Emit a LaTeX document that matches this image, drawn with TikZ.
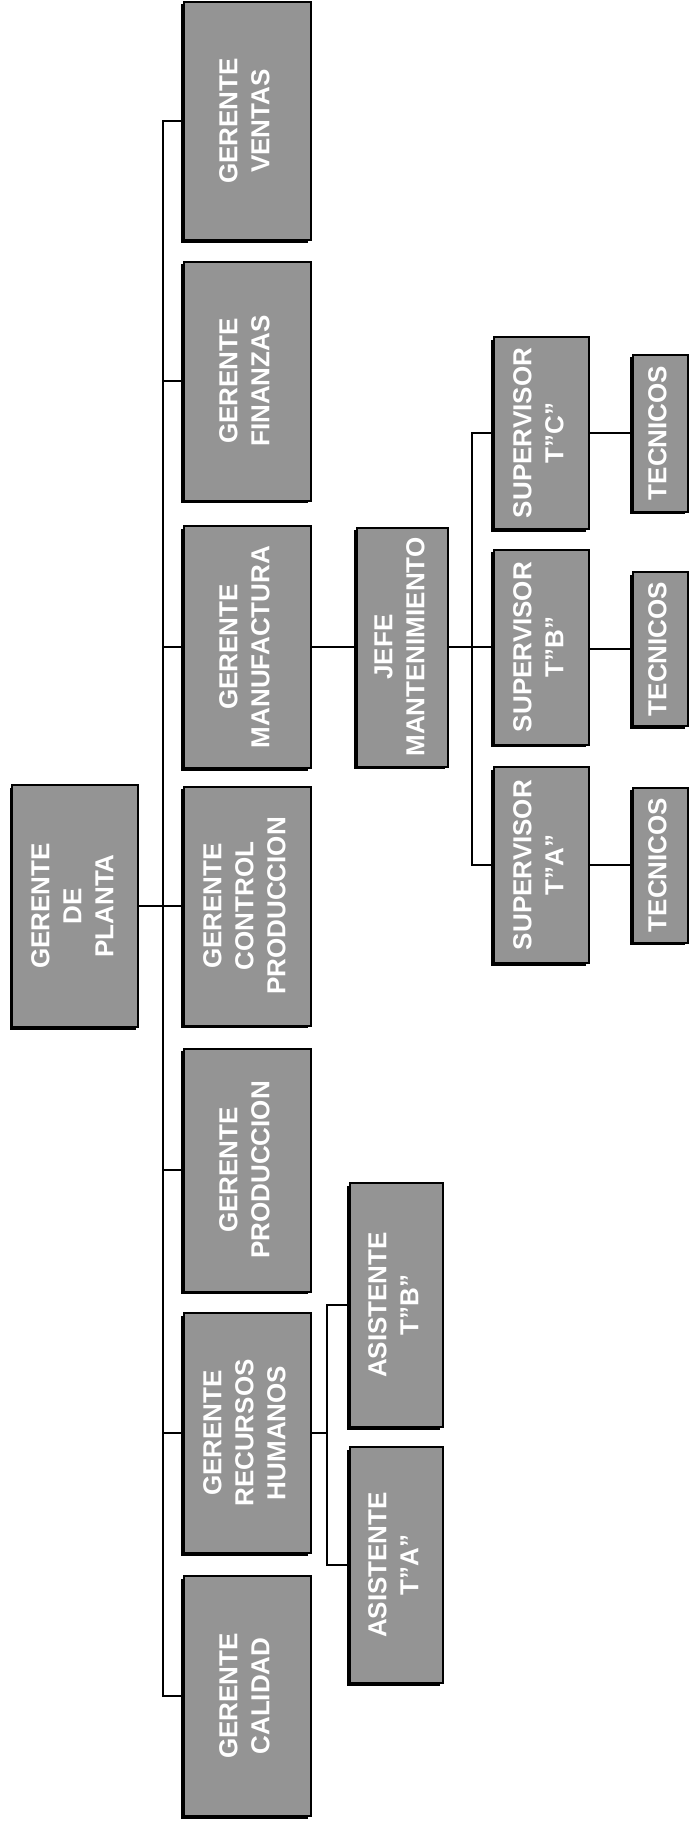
\documentclass[tikz,border=0pt]{standalone}
\usepackage{fontspec}
\setmainfont{Liberation Sans}
\usetikzlibrary{shadows}
\newcommand{\rt}[1]{\rotatebox{90}{\begin{tabular}{@{}c@{}}#1\end{tabular}}}
\tikzset{
  box/.style={draw=black, line width=2pt, fill=black!42, text=white, inner sep=0pt,
    font=\fontsize{26}{32}\selectfont\bfseries,
    general shadow={fill=black, shadow xshift=-2.5pt, shadow yshift=-2.5pt}},
  link/.style={draw=black, line width=1.6pt}
}
\begin{document}
\begin{tikzpicture}[x=1pt,y=-1pt]
\useasboundingbox (0,0) rectangle (689,1828);
% root
\node[box, minimum width=126pt, minimum height=242pt] (planta) at (75,906) {\rt{GERENTE\\DE\\PLANTA}};
% level 1
\node[box, minimum width=127pt, minimum height=238pt] (ventas) at (247,121) {\rt{GERENTE\\VENTAS}};
\node[box, minimum width=127pt, minimum height=239pt] (finanzas) at (247,381) {\rt{GERENTE\\FINANZAS}};
\node[box, minimum width=127pt, minimum height=242pt] (manuf) at (247,647) {\rt{GERENTE\\MANUFACTURA}};
\node[box, minimum width=127pt, minimum height=239pt] (control) at (247,906) {\rt{GERENTE\\CONTROL\\PRODUCCION}};
\node[box, minimum width=127pt, minimum height=243pt] (prod) at (247,1170) {\rt{GERENTE\\PRODUCCION}};
\node[box, minimum width=127pt, minimum height=240pt] (rrhh) at (247,1433) {\rt{GERENTE\\RECURSOS\\HUMANOS}};
\node[box, minimum width=127pt, minimum height=240pt] (calidad) at (247,1696) {\rt{GERENTE\\CALIDAD}};
% level 2
\node[box, minimum width=91pt, minimum height=239pt] (jefe) at (402,647) {\rt{JEFE\\MANTENIMIENTO}};
\node[box, minimum width=93pt, minimum height=244pt] (asb) at (396,1305) {\rt{ASISTENTE\\T"B"}};
\node[box, minimum width=93pt, minimum height=236pt] (asa) at (396,1565) {\rt{ASISTENTE\\T"A"}};
% supervisors
\node[box, minimum width=95pt, minimum height=192pt] (supc) at (541,433) {\rt{SUPERVISOR\\T"C"}};
\node[box, minimum width=95pt, minimum height=195pt] (supb) at (541,647) {\rt{SUPERVISOR\\T"B"}};
\node[box, minimum width=95pt, minimum height=196pt] (supa) at (541,865) {\rt{SUPERVISOR\\T"A"}};
% tecnicos
\node[box, minimum width=55pt, minimum height=157pt] (tecc) at (660,433) {\rt{TECNICOS}};
\node[box, minimum width=55pt, minimum height=154pt] (tecb) at (660,649) {\rt{TECNICOS}};
\node[box, minimum width=55pt, minimum height=155pt] (teca) at (660,865) {\rt{TECNICOS}};
% trunk coordinates
\coordinate (t1) at (163,0);
\coordinate (t2) at (472,0);
\coordinate (t3) at (327,0);
% connectors
\draw[link] (ventas.west) -- (ventas.west -| t1) -- (calidad.west -| t1) -- (calidad.west);
\draw[link] (planta.east) -- (planta.east -| t1);
\draw[link] (finanzas.west) -- (finanzas.west -| t1);
\draw[link] (manuf.west) -- (manuf.west -| t1);
\draw[link] (control.west) -- (control.west -| t1);
\draw[link] (prod.west) -- (prod.west -| t1);
\draw[link] (rrhh.west) -- (rrhh.west -| t1);
\draw[link] (manuf.east) -- (jefe.west);
\draw[link] (jefe.east) -- (supb.west);
\draw[link] (supc.west) -- (supc.west -| t2) -- (supa.west -| t2) -- (supa.west);
\draw[link] (supc.east) -- (tecc.west);
\draw[link] (supb.east) -- (supb.east |- tecb.west) -- (tecb.west);
\draw[link] (supa.east) -- (teca.west);
\draw[link] (rrhh.east) -- (rrhh.east -| t3);
\draw[link] (asb.west) -- (asb.west -| t3) -- (asa.west -| t3) -- (asa.west);
\end{tikzpicture}
\end{document}
